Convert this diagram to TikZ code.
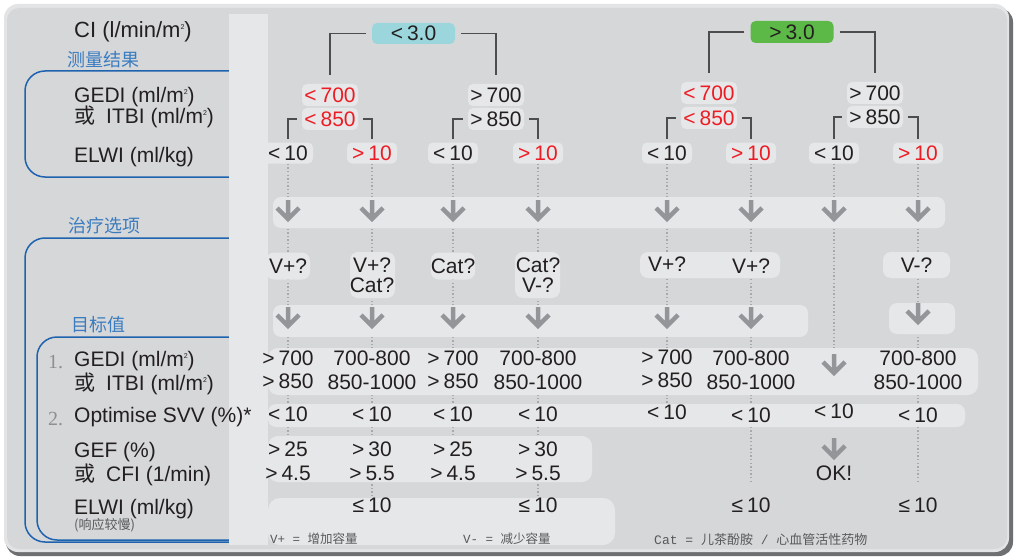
\documentclass[tikz,border=0pt]{standalone}
\usepackage{fontspec}
\setmainfont{Liberation Sans}
\newfontfamily\cjk{Noto Sans CJK SC}
\newfontfamily\numserif{Liberation Serif}
\newfontfamily\monof{Liberation Mono}
\definecolor{panelc}{HTML}{D6D7D9}
\definecolor{lightc}{HTML}{E6E7E8}
\definecolor{rimc}{HTML}{E3E4E5}
\definecolor{shadowc}{HTML}{6E6F71}
\definecolor{ink}{HTML}{231F20}
\definecolor{tred}{HTML}{ED1C24}
\definecolor{bluec}{HTML}{1F63AE}
\definecolor{bluelab}{HTML}{3B7CC0}
\definecolor{agray}{HTML}{939598}
\definecolor{dotc}{HTML}{A7A9AC}
\definecolor{treec}{HTML}{4D4D4F}
\definecolor{tealc}{HTML}{9AD6DB}
\definecolor{greenc}{HTML}{5DB947}
\definecolor{footc}{HTML}{58595B}
\definecolor{numc}{HTML}{8D8F92}
\newcommand\sqm{\raisebox{8pt}{\fontsize{7}{7}\selectfont 2}}
\newcommand\mylt{<\kern4pt}
\newcommand\mygt{>\kern4pt}
\newcommand\myle{≤\kern4pt}
\tikzset{
  base/.style={inner sep=0pt, text height=15pt, text depth=0pt, font=\fontsize{21}{24}\selectfont, text=ink},
  lab/.style={base, anchor=west},
  val/.style={base},
  rv/.style={base, text=tred},
  numl/.style={base, anchor=west, font=\numserif\fontsize{20}{20}\selectfont, text=numc},
  chip/.style={base, fill=lightc, rounded corners=5pt, minimum width=50pt, minimum height=21pt},
  chipb/.style={chip, minimum width=56pt, minimum height=22pt},
  tbox/.style={base, fill=lightc, rounded corners=8pt},
  tree/.style={draw=treec, line width=1.3pt},
  dotl/.style={draw=dotc, line width=1.4pt, dash pattern=on 1.4pt off 2.2pt},
  bline/.style={draw=bluec, line width=1.5pt, rounded corners=20pt},
  blab/.style={font=\cjk\fontsize{18}{18}\selectfont, text=bluelab, inner sep=0pt, anchor=west},
  arrowline/.style={draw=agray, line width=4.5pt, miter limit=10},
  darr/.pic={\draw[arrowline] (0,0) -- (0,19) (-11,8) -- (0,19) -- (11,8);},
  foot/.style={font=\fontsize{12.5}{14}\selectfont, text=footc, inner sep=0pt, anchor=west},
}
\begin{document}
\begin{tikzpicture}[x=1pt,y=-1pt]
\useasboundingbox (0,0) rectangle (1014,559);
% panel
\fill[white] (0,0) rectangle (1014,559);
\fill[shadowc, rounded corners=14pt] (6,8) rectangle (1013,556);
\fill[rimc, rounded corners=14pt] (4,4) rectangle (1009,552);
\fill[panelc, rounded corners=12pt] (7,8) rectangle (1007,549);
% blue brackets
\draw[bline] (229,71) -- (25,71) -- (25,177) -- (229,177);
\draw[bline] (229,238) -- (25,238) -- (25,542) -- (229,542);
\draw[bline] (229,337) -- (37,337) -- (37,540) -- (229,540);
\node[blab] (m1) at (67,60) {测量结果};
\node[blab] (m2) at (68,226) {治疗选项};
\node[blab] (m3) at (71,325) {目标值};
% light strip
\fill[lightc] (229,14) rectangle (268,545);
% left labels
\node[lab, font=\fontsize{22}{24}\selectfont] (ci) at (74,30) {CI (l/min/m\sqm)};
\node[lab] (g1) at (74,95) {GEDI (ml/m\sqm)};
\node[lab] (i1) at (74,116) {{\cjk 或}\hspace{11pt}ITBI (ml/m\sqm)};
\node[lab] (w1) at (74,155) {ELWI (ml/kg)};
\node[numl] (n1) at (48,361) {1.};
\node[lab] (g2) at (74,359) {GEDI (ml/m\sqm)};
\node[lab] (i2) at (74,383) {{\cjk 或}\hspace{11pt}ITBI (ml/m\sqm)};
\node[numl] (n2) at (48,418) {2.};
\node[lab] (s2) at (74,415) {Optimise SVV (\%)*};
\node[lab] (gef) at (74,450) {GEF (\%)};
\node[lab] (cfi) at (74,474) {{\cjk 或}\hspace{11pt}CFI (1/min)};
\node[lab] (w2) at (74,507) {ELWI (ml/kg)};
\node[anchor=west, inner sep=0pt, font=\cjk\fontsize{13}{13}\selectfont, text=footc] (slow) at (74,525) {(响应较慢)};
% tree nodes
\node[chip, fill=tealc, minimum width=83pt, minimum height=21pt] (A) at (413.5,33.5) {\mylt 3.0};
\node[chip, fill=greenc, minimum width=83pt, minimum height=22pt] (B) at (792,32) {\mygt 3.0};
\node[chipb, text=tred] (A1) at (330,95) {\mylt 700};
\node[chipb, text=tred] (A1b) at (330,119) {\mylt 850};
\node[chipb] (A2) at (496,95) {\mygt 700};
\node[chipb] (A2b) at (496,119) {\mygt 850};
\node[chipb, text=tred] (B1) at (709,93) {\mylt 700};
\node[chipb, text=tred] (B1b) at (709,118) {\mylt 850};
\node[chipb] (B2) at (875,93) {\mygt 700};
\node[chipb] (B2b) at (875,117) {\mygt 850};
\node[chip] (L1) at (288,153) {\mylt 10};
\node[chip, text=tred] (L2) at (372,153) {\mygt 10};
\node[chip] (L3) at (453,153) {\mylt 10};
\node[chip, text=tred] (L4) at (538,153) {\mygt 10};
\node[chip] (L5) at (667,153) {\mylt 10};
\node[chip, text=tred] (L6) at (751,153) {\mygt 10};
\node[chip] (L7) at (834,153) {\mylt 10};
\node[chip, text=tred] (L8) at (918,153) {\mygt 10};
% tree connectors
\draw[tree] ([xshift=-6pt]A.west) -| ([yshift=9pt]A1.north);
\draw[tree] ([xshift=6pt]A.east) -| ([yshift=9pt]A2.north);
\draw[tree] ([xshift=-6pt]B.west) -| ([yshift=9pt]B1.north);
\draw[tree] ([xshift=6pt]B.east) -| ([yshift=9pt]B2.north);
\draw[tree] ([xshift=-5pt]A1b.west) -| ([yshift=3pt]L1.north);
\draw[tree] ([xshift=5pt]A1b.east) -| ([yshift=3pt]L2.north);
\draw[tree] ([xshift=-5pt]A2b.west) -| ([yshift=3pt]L3.north);
\draw[tree] ([xshift=5pt]A2b.east) -| ([yshift=3pt]L4.north);
\draw[tree] ([xshift=-5pt]B1b.west) -| ([yshift=3pt]L5.north);
\draw[tree] ([xshift=5pt]B1b.east) -| ([yshift=3pt]L6.north);
\draw[tree] ([xshift=-5pt]B2b.west) -| ([yshift=3pt]L7.north);
\draw[tree] ([xshift=5pt]B2b.east) -| ([yshift=3pt]L8.north);
% dotted guide lines
\coordinate (E1) at (288,482);
\coordinate (E2) at (372,498);
\coordinate (E3) at (453,482);
\coordinate (E4) at (538,498);
\coordinate (E5) at (667,404);
\coordinate (E6) at (751,482);
\coordinate (E7) at (834,348);
\coordinate (E8) at (918,482);
\draw[dotl] (L1.south) -- (E1);
\draw[dotl] (L2.south) -- (E2);
\draw[dotl] (L3.south) -- (E3);
\draw[dotl] (L4.south) -- (E4);
\draw[dotl] (L5.south) -- (E5);
\draw[dotl] (L6.south) -- (E6);
\draw[dotl] (L7.south) -- (E7);
\draw[dotl] (L8.south) -- (E8);
% bands
\fill[lightc, rounded corners=8pt] (273,197) rectangle (945,228);
\fill[lightc, rounded corners=8pt] (273,305) rectangle (808,337);
\fill[lightc, rounded corners=8pt] (889,303) rectangle (955,334);
\fill[lightc, rounded corners=10pt] (268,348) rectangle (978,395);
\fill[lightc, rounded corners=8pt] (268,404) rectangle (965,427);
\fill[lightc, rounded corners=10pt] (268,436) rectangle (592,482);
\fill[lightc, rounded corners=12pt] (268,498) rectangle (615,545);
% arrows
\foreach \x in {288,372,453,538,667,751,834,918} {\pic at (\x,200) {darr};}
\foreach \x in {288,372,453,538,667,751} {\pic at (\x,307) {darr};}
\pic at (918,303) {darr};
\pic at (834,354) {darr};
\pic at (834,438) {darr};
% treatment options
\node[tbox, minimum width=44pt, minimum height=27pt] (T1) at (288,266) {V+?};
\node[tbox, minimum width=45pt, minimum height=46pt] (T2) at (372.5,275) {};
\node[val] (T2a) at (372,265) {V+?};
\node[val] (T2b) at (372,285) {Cat?};
\node[tbox, minimum width=44pt, minimum height=27pt] (T3) at (453,266) {Cat?};
\node[tbox, minimum width=45pt, minimum height=46pt] (T4) at (537.5,275) {};
\node[val] (T4a) at (538,265) {Cat?};
\node[val] (T4b) at (538,285) {V-?};
\node[tbox, minimum width=140pt, minimum height=26pt] (T56) at (710,265) {};
\node[val] (T5) at (667,264) {V+?};
\node[val] (T6) at (751,266) {V+?};
\node[tbox, minimum width=67pt, minimum height=26pt] (T8) at (916.5,265) {V-?};
% target values row: GEDI / ITBI
\node[val] (r1a) at (288,358) {\mygt 700};
\node[val] (r1b) at (288,381) {\mygt 850};
\node[val] (r2a) at (372,358) {700-800};
\node[val] (r2b) at (372,382) {850-1000};
\node[val] (r3a) at (453,358) {\mygt 700};
\node[val] (r3b) at (453,381) {\mygt 850};
\node[val] (r4a) at (538,358) {700-800};
\node[val] (r4b) at (538,382) {850-1000};
\node[val] (r5a) at (667,357) {\mygt 700};
\node[val] (r5b) at (667,380) {\mygt 850};
\node[val] (r6a) at (751,358) {700-800};
\node[val] (r6b) at (751,382) {850-1000};
\node[val] (r8a) at (918,358) {700-800};
\node[val] (r8b) at (918,382) {850-1000};
% SVV row
\node[val] (s1) at (288,414) {\mylt 10};
\node[val] (s2v) at (372,414) {\mylt 10};
\node[val] (s3) at (453,414) {\mylt 10};
\node[val] (s4) at (538,414) {\mylt 10};
\node[val] (s5) at (667,412) {\mylt 10};
\node[val] (s6) at (751,415) {\mylt 10};
\node[val] (s7) at (834,411) {\mylt 10};
\node[val] (s8) at (918,415) {\mylt 10};
% GEF / CFI row
\node[val] (q1a) at (288,449) {\mygt 25};
\node[val] (q1b) at (288,473) {\mygt 4.5};
\node[val] (q2a) at (372,449) {\mygt 30};
\node[val] (q2b) at (372,473) {\mygt 5.5};
\node[val] (q3a) at (453,449) {\mygt 25};
\node[val] (q3b) at (453,473) {\mygt 4.5};
\node[val] (q4a) at (538,449) {\mygt 30};
\node[val] (q4b) at (538,473) {\mygt 5.5};
\node[val] (ok) at (834,473) {OK!};
% ELWI row
\node[val] (w2v) at (372,505) {\myle 10};
\node[val] (w4v) at (538,505) {\myle 10};
\node[val] (w6v) at (751,505) {\myle 10};
\node[val] (w8v) at (918,505) {\myle 10};
% footnotes
\node[foot] (f1) at (270,539) {{\monof V+ = }{\cjk 增加容量}};
\node[foot] (f2) at (463,539) {{\monof V- = }{\cjk 减少容量}};
\node[foot, font=\fontsize{13}{15}\selectfont] (f3) at (654,540) {{\monof Cat = }{\cjk 儿茶酚胺}{\monof{} / }{\cjk 心血管活性药物}};
\end{tikzpicture}
\end{document}
